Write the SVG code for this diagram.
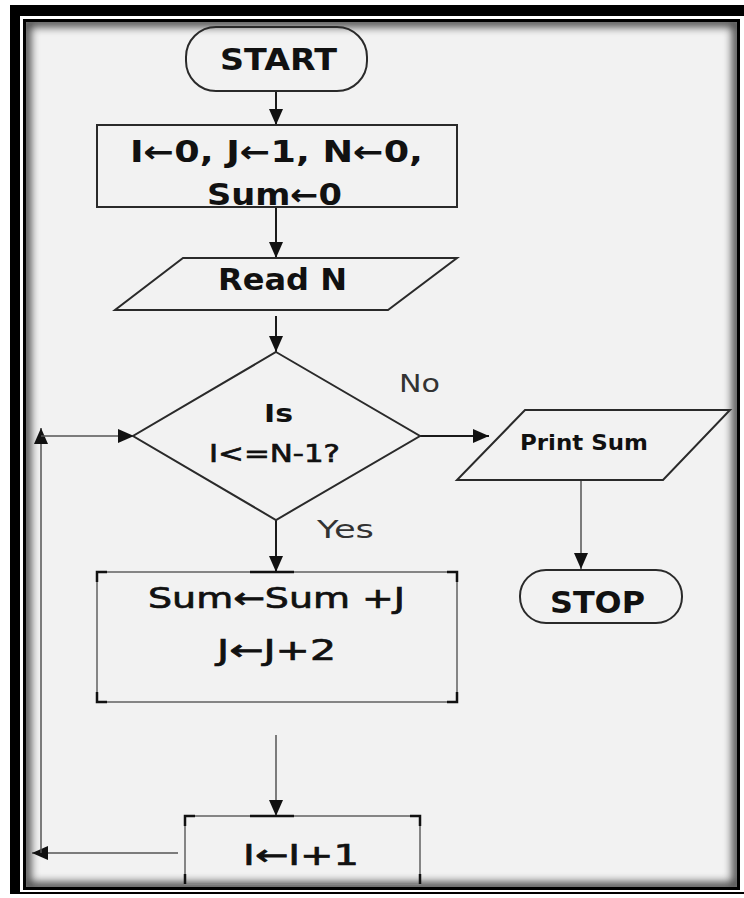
<svg xmlns="http://www.w3.org/2000/svg" width="744" height="898" viewBox="0 0 744 898">
  <style>
    .shape { fill: none; stroke: #2a2a2a; stroke-width: 2; }
    .soft { fill: none; stroke: #858585; stroke-width: 2; }
    .tick { fill: none; stroke: #111; stroke-width: 2.5; }
    .t { font-family: "DejaVu Sans", "Liberation Sans", sans-serif; fill: #111; }
    .b { font-weight: bold; }
    .m { stroke: #111; stroke-width: 0.7; }
    .lbl { font-family: "DejaVu Sans", "Liberation Sans", sans-serif; fill: #333; font-size: 24px; }
    .conn { fill: none; stroke: #1a1a1a; stroke-width: 2; }
    .thin { fill: none; stroke: #555; stroke-width: 1.5; }
  </style>
  <defs>
    <marker id="arr" viewBox="0 0 16 14" refX="16" refY="7" markerWidth="16" markerHeight="15" markerUnits="userSpaceOnUse" orient="auto">
      <path d="M0,0 L16,7 L0,14 z" fill="#111"/>
    </marker>
    <clipPath id="panelClip">
      <rect x="26" y="22" width="711" height="865"/>
    </clipPath>
    <filter id="blur" x="-5%" y="-5%" width="110%" height="110%">
      <feGaussianBlur stdDeviation="4"/>
    </filter>
  </defs>

  <!-- frame -->
  <rect x="0" y="0" width="744" height="898" fill="#fff"/>
  <rect x="10" y="5" width="734" height="889" fill="#000"/>
  <rect x="20" y="16" width="724" height="876" fill="#fff"/>
  <rect x="23" y="19" width="717" height="871" fill="#000"/>
  <rect x="26" y="22" width="711" height="865" fill="#f2f2f2"/>
  <g clip-path="url(#panelClip)">
    <rect x="26" y="22" width="711" height="865" fill="none" stroke="#000" stroke-width="10" filter="url(#blur)" opacity="0.7"/>
  </g>

  <!-- connectors -->
  <g id="connectors">
    <path class="conn" d="M276,91 L276,125" marker-end="url(#arr)"/>
    <path class="conn" d="M276,207 L276,258" marker-end="url(#arr)"/>
    <path class="conn" d="M276,316 L276,352" marker-end="url(#arr)"/>
    <path class="conn" d="M276,520 L276,572" marker-end="url(#arr)"/>
    <path class="thin" d="M276,735 L276,816" marker-end="url(#arr)"/>
    <path class="conn" d="M420,436 L489,436" marker-end="url(#arr)"/>
    <path class="thin" d="M581,480 L581,569" marker-end="url(#arr)"/>
    <path class="thin" d="M178,853 L32,853" marker-end="url(#arr)"/>
    <path class="thin" d="M41,853 L41,428" marker-end="url(#arr)"/>
    <path class="thin" d="M41,436 L134,436" marker-end="url(#arr)"/>
    <text class="lbl" x="399" y="392" textLength="41" lengthAdjust="spacingAndGlyphs">No</text>
    <text class="lbl" x="317" y="538" textLength="57" lengthAdjust="spacingAndGlyphs">Yes</text>
  </g>

  <g id="start">
    <rect class="shape" x="186" y="27" width="181" height="64" rx="30"/>
    <text class="t b" x="220" y="70" font-size="31" textLength="117" lengthAdjust="spacingAndGlyphs">START</text>
  </g>

  <g id="init">
    <rect class="shape" x="97" y="125" width="360" height="82"/>
    <text class="t b" x="130" y="162" font-size="30" textLength="293" lengthAdjust="spacingAndGlyphs">I←0, J←1, N←0,</text>
    <text class="t b" x="207" y="205" font-size="30" textLength="135" lengthAdjust="spacingAndGlyphs">Sum←0</text>
  </g>

  <g id="read">
    <polygon class="shape" points="183,258 457,258 388,310 115,310" stroke-width="2.5"/>
    <text class="t b" x="218" y="290" font-size="30" textLength="129" lengthAdjust="spacingAndGlyphs">Read N</text>
  </g>

  <g id="decision">
    <polygon class="shape" points="276,352 420,436 276,520 133,436" stroke="#3a3a3a"/>
    <text class="t b" x="264" y="422" font-size="24" textLength="29" lengthAdjust="spacingAndGlyphs">Is</text>
    <text class="t m" x="209" y="462" font-size="25" textLength="131" lengthAdjust="spacingAndGlyphs">I&lt;=N-1?</text>
  </g>

  <g id="print">
    <polygon class="shape" points="525,410 730,410 663,480 457,480" stroke-width="2.5"/>
    <text class="t b" x="520" y="450" font-size="22" textLength="128" lengthAdjust="spacingAndGlyphs">Print Sum</text>
  </g>

  <g id="stop">
    <rect class="shape" x="520" y="570" width="162" height="53" rx="26"/>
    <text class="t b" x="550" y="613" font-size="30" textLength="95" lengthAdjust="spacingAndGlyphs">STOP</text>
  </g>

  <g id="update">
    <rect class="soft" x="97" y="572" width="360" height="130"/>
    <path class="tick" d="M97,582 L97,572 L107,572 M447,572 L457,572 L457,582 M97,692 L97,702 L107,702 M447,702 L457,702 L457,692 M250,572 L294,572"/>
    <text class="t m" x="148" y="608" font-size="29" textLength="257" lengthAdjust="spacingAndGlyphs">Sum←Sum +J</text>
    <text class="t m" x="217" y="660" font-size="29" textLength="119" lengthAdjust="spacingAndGlyphs">J←J+2</text>
  </g>

  <g id="increment">
    <rect class="soft" x="185" y="816" width="235" height="68"/>
    <path class="tick" d="M185,826 L185,816 L195,816 M410,816 L420,816 L420,826 M185,874 L185,884 M420,874 L420,884 M250,816 L294,816"/>
    <text class="t m" x="243" y="865" font-size="29" textLength="116" lengthAdjust="spacingAndGlyphs">I←I+1</text>
  </g>
</svg>
